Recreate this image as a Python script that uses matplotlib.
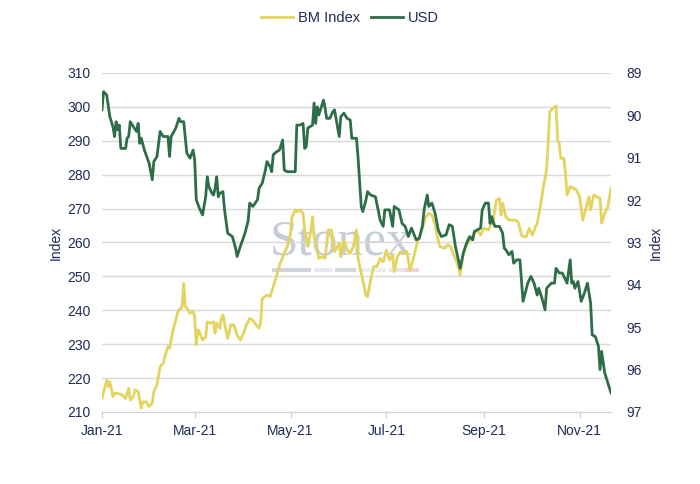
import matplotlib
matplotlib.use("Agg")
import matplotlib.pyplot as plt
import matplotlib.dates as mdates
from matplotlib.patches import Rectangle
import pandas as pd

plt.rcParams['font.family'] = ['Liberation Sans', 'DejaVu Sans']

# Day offsets from 2021-01-01 and values
usd_days = [0, 1, 3, 5, 7, 8, 9, 10, 11, 12, 15, 16, 17, 18, 20, 22, 23, 24, 25, 27,
            30, 32, 33, 35, 37, 39, 42, 43, 44, 47, 49, 50, 52, 54, 56, 58, 59, 60, 62, 64,
            66, 67, 68, 70, 71, 72, 73, 74, 75, 77, 78, 80, 83, 85, 86, 88, 91, 93, 94, 96,
            99, 100, 102, 104, 105, 107, 108, 109, 111, 113, 115, 116, 118, 123, 124, 126, 128, 129, 130, 131,
            134, 135, 136, 137, 138, 139, 141, 142, 143, 145, 147, 148, 151, 152, 154, 156, 158, 159, 162, 163,
            165, 166, 168, 169, 171, 174, 176, 177, 179, 180, 183, 185, 186, 189, 191, 193, 195, 197, 200, 202,
            204, 205, 207, 208, 210, 212, 214, 216, 219, 221, 223, 225, 228, 230, 232, 234, 236, 237, 239, 241,
            242, 244, 246, 247, 248, 250, 253, 255, 256, 257, 259, 261, 262, 264, 266, 268, 271, 273, 275, 277,
            278, 280, 282, 283, 286, 288, 289, 291, 293, 294, 296, 298, 299, 300, 301, 303, 305, 307, 309, 311,
            312, 314, 316, 317, 318, 320, 322, 324]
usd_vals = [89.87, 89.44, 89.52, 90.03, 90.27, 90.50, 90.15, 90.34, 90.23, 90.78, 90.78, 90.54, 90.50, 90.15, 90.27, 90.38, 90.19, 90.66, 90.54, 90.82,
            91.13, 91.52, 91.09, 90.97, 90.38, 90.50, 90.50, 90.97, 90.50, 90.30, 90.07, 90.15, 90.15, 90.89, 91.01, 90.82, 91.05, 91.99, 92.19, 92.35,
            91.92, 91.45, 91.68, 91.84, 91.88, 91.72, 91.45, 91.92, 91.84, 91.80, 92.23, 92.78, 92.86, 93.13, 93.33, 93.10, 92.78, 92.50, 92.07, 92.15,
            91.99, 91.72, 91.60, 91.29, 91.09, 91.21, 91.33, 90.93, 90.86, 90.82, 90.58, 91.29, 91.33, 91.33, 90.23, 90.23, 90.19, 90.78, 90.74, 90.30,
            90.23, 89.71, 90.19, 89.80, 89.99, 89.87, 89.64, 89.83, 90.07, 90.07, 89.91, 89.87, 90.50, 90.03, 89.95, 90.07, 90.11, 90.54, 90.54, 91.00,
            92.15, 92.27, 92.00, 91.80, 91.88, 91.92, 92.27, 92.47, 92.62, 92.23, 92.23, 92.62, 92.15, 92.23, 92.55, 92.62, 92.86, 92.66, 92.94, 92.90,
            92.60, 92.23, 91.88, 92.15, 92.07, 92.31, 92.70, 92.86, 92.82, 92.58, 92.62, 93.10, 93.61, 93.25, 93.02, 92.86, 92.94, 92.74, 92.70, 92.66,
            92.23, 92.07, 92.07, 92.55, 92.39, 92.62, 92.62, 92.78, 93.13, 93.17, 93.29, 93.21, 93.49, 93.41, 93.41, 94.39, 93.96, 93.80, 93.96, 94.24,
            94.08, 94.31, 94.59, 94.08, 93.96, 93.96, 93.61, 93.72, 93.72, 93.80, 93.96, 93.41, 93.96, 93.92, 94.08, 93.92, 94.39, 94.20, 93.96, 94.43,
            95.18, 95.22, 95.45, 96.00, 95.57, 96.08, 96.32, 96.55]

bm_days = [0, 3, 4, 5, 7, 8, 10, 13, 15, 17, 18, 20, 21, 23, 25, 26, 28, 30, 32, 33,
           35, 37, 39, 40, 42, 43, 45, 47, 48, 49, 51, 52, 53, 55, 56, 58, 59, 60, 61, 62,
           64, 66, 67, 69, 71, 72, 73, 75, 76, 77, 78, 80, 82, 84, 86, 88, 90, 92, 94, 96,
           98, 100, 101, 102, 105, 107, 109, 111, 113, 116, 118, 119, 120, 121, 123, 124, 126, 128, 129, 131,
           133, 134, 135, 138, 140, 142, 144, 146, 148, 151, 152, 154, 156, 158, 160, 162, 163, 166, 168, 169,
           171, 173, 175, 177, 179, 181, 183, 185, 186, 188, 190, 192, 194, 196, 198, 200, 202, 204, 206, 208,
           210, 212, 213, 215, 218, 220, 222, 224, 226, 228, 229, 230, 232, 235, 237, 239, 241, 243, 246, 247,
           249, 251, 253, 254, 255, 257, 259, 261, 263, 265, 267, 268, 270, 272, 274, 276, 277, 279, 281, 283,
           284, 285, 287, 289, 290, 291, 292, 294, 295, 296, 298, 300, 302, 304, 306, 308, 310, 311, 313, 315,
           317, 318, 320, 322, 324]
bm_vals = [214.0, 219.4, 217.5, 218.9, 214.5, 215.5, 215.5, 215.0, 214.0, 217.0, 213.5, 214.5, 216.5, 216.0, 211.1, 213.0, 213.0, 211.6, 212.6, 216.0,
           218.0, 223.4, 224.4, 226.3, 229.3, 228.8, 233.7, 237.1, 239.1, 240.1, 241.1, 248.0, 241.1, 240.1, 239.1, 239.6, 238.1, 229.8, 234.2, 233.7,
           231.2, 232.2, 236.6, 236.2, 236.6, 233.2, 236.2, 234.7, 237.6, 238.6, 236.2, 231.7, 235.7, 235.7, 232.7, 231.2, 233.2, 235.7, 237.6, 237.1,
           235.7, 234.7, 236.6, 243.5, 244.5, 244.0, 247.0, 249.9, 253.4, 256.8, 258.9, 260.7, 262.7, 267.6, 269.6, 269.1, 269.6, 268.6, 263.7, 258.8,
           263.7, 267.6, 261.7, 255.3, 255.8, 255.3, 263.7, 263.7, 257.3, 259.8, 255.8, 260.7, 257.8, 256.8, 258.8, 263.7, 255.3, 248.9, 244.5, 244.0,
           248.9, 252.9, 252.9, 255.3, 254.3, 257.8, 254.8, 256.3, 251.4, 255.8, 257.3, 256.8, 257.3, 251.9, 254.8, 258.8, 261.7, 264.2, 267.6, 268.6,
           268.1, 265.2, 262.7, 258.8, 258.3, 259.3, 258.8, 256.3, 253.9, 250.4, 253.9, 256.8, 259.3, 261.2, 262.7, 263.7, 262.2, 264.2, 263.7, 264.7,
           266.6, 272.5, 273.0, 268.1, 271.6, 267.6, 266.6, 266.6, 266.6, 266.0, 262.2, 261.7, 261.7, 264.2, 262.2, 264.7, 265.7, 270.6, 276.5, 281.4,
           289.3, 298.6, 299.6, 300.3, 290.2, 289.3, 284.8, 284.8, 280.4, 274.0, 276.5, 276.0, 275.5, 273.5, 266.6, 270.1, 273.5, 269.6, 274.0, 273.5,
           273.0, 265.7, 268.6, 270.6, 276.0]

left_ticks = [210, 220, 230, 240, 250, 260, 270, 280, 290, 300, 310]
right_ticks = [89, 90, 91, 92, 93, 94, 95, 96, 97]
x_tick_dates = ['2021-01-01', '2021-03-01', '2021-05-01', '2021-07-01', '2021-09-01', '2021-11-01']

start = pd.Timestamp('2021-01-01')
usd_dates = start + pd.to_timedelta(usd_days, unit='D')
bm_dates = start + pd.to_timedelta(bm_days, unit='D')

BM_COL = '#E3D45E'
USD_COL = '#2D6E48'
TXT = '#1F2B57'

fig = plt.figure(figsize=(7.0, 4.84), dpi=100)
ax = fig.add_axes([0.1457, 0.1488, 0.7272, 0.7004])
ax2 = ax.twinx()

# watermark
fig.text(0.487, 0.50, 'Stonex', family=['Liberation Serif', 'DejaVu Serif'], fontsize=37,
         color='#b3bbcb', alpha=0.75, ha='center', va='center', zorder=0)
for x0, w, c in [(0.389, 0.055, '#c3cad6'), (0.449, 0.025, '#dfe5ef'), (0.479, 0.030, '#c9d3cc'),
                 (0.512, 0.040, '#e8ecef'), (0.556, 0.022, '#f0d9dc'), (0.578, 0.020, '#ecc6cc')]:
    fig.patches.append(Rectangle((x0, 0.437), w, 0.010, transform=fig.transFigure,
                                 facecolor=c, edgecolor='none', alpha=0.8, zorder=0))

ax.set_zorder(1)
ax.patch.set_visible(False)
ax2.set_zorder(2)
ax2.patch.set_visible(False)

l1, = ax.plot(bm_dates, bm_vals, color=BM_COL, lw=2.0, label='BM Index', zorder=3)
l2, = ax2.plot(usd_dates, usd_vals, color=USD_COL, lw=2.0, label='USD', zorder=3)

ax.set_ylim(210, 310)
ax.set_yticks(left_ticks)
ax2.set_ylim(97, 89)
ax2.set_yticks(right_ticks)
ax.set_xlim(pd.Timestamp('2021-01-01'), pd.Timestamp('2021-11-21'))
ax.set_xticks(pd.to_datetime(x_tick_dates))
ax.xaxis.set_major_formatter(mdates.DateFormatter('%b-%y'))

ax.grid(axis='y', color='#d9d9d9', lw=1.0)
ax.set_axisbelow(True)
for a in (ax, ax2):
    for s in ('top', 'right', 'left', 'bottom'):
        a.spines[s].set_visible(False)
ax.spines['bottom'].set_visible(True)
ax.spines['bottom'].set_color('#d0d0d0')

ax.tick_params(axis='y', length=0, labelsize=10, labelcolor=TXT, pad=8)
ax2.tick_params(axis='y', length=0, labelsize=10, labelcolor=TXT, pad=11)
ax.tick_params(axis='x', length=4, color='#d0d0d0', labelsize=10, labelcolor=TXT, pad=5)

ax.set_ylabel('Index', fontsize=10, color=TXT, labelpad=3)
ax2.set_ylabel('Index', fontsize=10, color=TXT, rotation=90, labelpad=5)

fig.legend(handles=[l1, l2], loc='center', bbox_to_anchor=(0.5, 0.962), ncol=2, frameon=False,
           fontsize=10.5, labelcolor=TXT, handlelength=2.2, columnspacing=0.8, handletextpad=0.3)

fig.savefig('out.png', dpi=100)
